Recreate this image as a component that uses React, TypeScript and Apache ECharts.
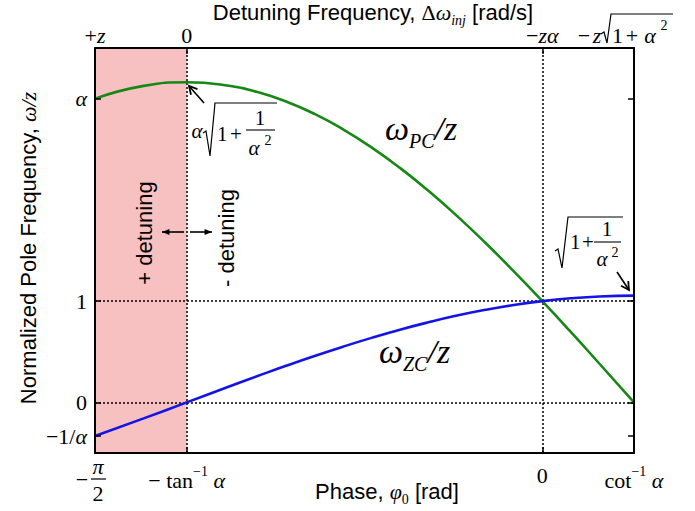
import React, { useEffect, useRef } from 'react';
import * as echarts from 'echarts';

// Phase φ0 [rad] samples
const phase = [-1.571, -1.4, -1.249, -1.1, -1.0, -0.9, -0.8, -0.7, -0.6, -0.5, -0.4, -0.3, -0.2, -0.1, 0, 0.1, 0.2, 0.322];
// ω_PC / z (green)
const pcValues = [3.0, 3.126, 3.162, 3.127, 3.065, 2.972, 2.849, 2.697, 2.519, 2.316, 2.089, 1.842, 1.576, 1.294, 1.0, 0.696, 0.384, 0.0];
// ω_ZC / z (blue)
const zcValues = [-0.333, -0.158, 0.0, 0.157, 0.26, 0.361, 0.458, 0.55, 0.637, 0.718, 0.791, 0.857, 0.914, 0.962, 1.0, 1.028, 1.046, 1.054];

const phaseTicks = [-1.571, -1.249, 0, 0.322];
const phaseTickLabels = ['', '{R|− tan}{sup|−1}{I| α}', '{r|0}', '{R|cot}{sup|−1}{I| α}'];
const detuneTickLabels = ['{r|+}{i|z}', '{r|0}', '{r|−}{i|zα}', ''];
const levelTicks = [-0.333, 0, 1, 3];
const levelTickLabels = ['{r|−1/}{i|α}', '{r|0}', '{r|1}', '{i|α}'];
const guidePhases = [-1.249, 0];
const guideLevels = [0, 1];
const detuneBand = [-1.571, -1.249];
const phaseRange = [-1.571, 0.322];
const levelRange = [-0.5, 3.5];

const SERIF = '"Liberation Serif", "Times New Roman", serif';
const SANS = '"Liberation Sans", Arial, Helvetica, sans-serif';

const richMath: any = {
  r: { fontFamily: SERIF, fontSize: 22, color: '#000' },
  i: { fontFamily: SERIF, fontSize: 22, fontStyle: 'italic', color: '#000' },
  R: { fontFamily: SERIF, fontSize: 22, color: '#000', padding: [5, 0, 0, 0] },
  I: { fontFamily: SERIF, fontSize: 22, fontStyle: 'italic', color: '#000', padding: [5, 0, 0, 0] },
  sup: { fontFamily: SERIF, fontSize: 14, color: '#000', verticalAlign: 'top' },
};

const pick = (ticks: number[], labels: string[]) => (v: number) => {
  let best = 0;
  ticks.forEach((t, i) => {
    if (Math.abs(t - v) < Math.abs(ticks[best] - v)) best = i;
  });
  return labels[best];
};

const frameLine = { show: true, onZero: false, lineStyle: { color: '#000', width: 2 } };
const tickStyle = (vals: number[]) => ({
  show: true,
  inside: true,
  length: 6,
  customValues: vals,
  lineStyle: { color: '#000', width: 1.5 },
});

const Z = 30;
const txt = (text: string, x: number, y: number, font: string, align = 'center', va = 'middle', extra: any = {}) => ({
  type: 'text',
  x,
  y,
  z: Z,
  ...extra,
  style: { text, font, fill: '#000', textAlign: align, textVerticalAlign: va, align, verticalAlign: va, ...(extra.style || {}) },
});
const seg = (x1: number, y1: number, x2: number, y2: number, w = 1.3) => ({
  type: 'line',
  z: Z,
  shape: { x1, y1, x2, y2 },
  style: { stroke: '#000', lineWidth: w },
});
const poly = (points: number[][], w = 1.3) => ({
  type: 'polyline',
  z: Z,
  shape: { points },
  style: { stroke: '#000', lineWidth: w, fill: null },
});
const arrow = (x1: number, y1: number, x2: number, y2: number, size: number, filled: boolean) => {
  const ang = Math.atan2(y2 - y1, x2 - x1);
  const spread = filled ? 0.38 : 0.5;
  const p1 = [x2 + size * Math.cos(ang + Math.PI - spread), y2 + size * Math.sin(ang + Math.PI - spread)];
  const p2 = [x2 + size * Math.cos(ang + Math.PI + spread), y2 + size * Math.sin(ang + Math.PI + spread)];
  const els: any[] = [seg(x1, y1, x2, y2, 1.6)];
  if (filled) els.push({ type: 'polygon', z: Z, shape: { points: [[x2, y2], p1, p2] }, style: { fill: '#000' } });
  else els.push(poly([p1, [x2, y2], p2], 1.8));
  return els;
};

const f21 = `21px ${SERIF}`;
const i21 = `italic 21px ${SERIF}`;
const f22 = `22px ${SERIF}`;
const i22 = `italic 22px ${SERIF}`;
const f14 = `14px ${SERIF}`;

function buildGraphics() {
  const g: any[] = [];
  // titles
  g.push({
    type: 'text', x: 373, y: 14, z: Z,
    style: {
      text: '{s|Detuning Frequency, }{d|Δ}{m|ω}{sub|inj}{s| [rad/s]}',
      textAlign: 'center', textVerticalAlign: 'middle', align: 'center', verticalAlign: 'middle',
      rich: {
        s: { font: `22px ${SANS}`, fill: '#000', padding: [0, 0, 4, 0] },
        d: { font: `22px ${SERIF}`, fill: '#000', padding: [0, 0, 4, 0] },
        m: { font: `italic 22px ${SERIF}`, fill: '#000', padding: [0, 0, 4, 0] },
        sub: { font: `italic 14px ${SERIF}`, fill: '#000', verticalAlign: 'bottom' },
      },
    },
  });
  g.push({
    type: 'text', x: 387, y: 493, z: Z,
    style: {
      text: '{s|Phase, }{m|φ}{sub|0}{s| [rad]}',
      textAlign: 'center', textVerticalAlign: 'middle', align: 'center', verticalAlign: 'middle',
      rich: {
        s: { font: `22px ${SANS}`, fill: '#000', padding: [0, 0, 4, 0] },
        m: { font: `italic 22px ${SERIF}`, fill: '#000', padding: [0, 0, 4, 0] },
        sub: { font: `14px ${SERIF}`, fill: '#000', verticalAlign: 'bottom' },
      },
    },
  });
  g.push({
    type: 'text', x: 28, y: 248, rotation: Math.PI / 2, z: Z,
    style: {
      text: '{s|Normalized Pole Frequency, }{m|ω/z}',
      textAlign: 'center', textVerticalAlign: 'middle', align: 'center', verticalAlign: 'middle',
      rich: {
        s: { font: `22px ${SANS}`, fill: '#000' },
        m: { font: `italic 22px ${SERIF}`, fill: '#000' },
      },
    },
  });

  // -π/2 tick label
  g.push(txt('−', 82, 479, f22));
  g.push(txt('π', 98, 466, i22));
  g.push(seg(91, 479, 106, 479, 1.2));
  g.push(txt('2', 98, 493, f22));

  // top-right tick label: −z√(1+α²)
  g.push(txt('−', 584, 46, f22, 'center', 'bottom'));
  g.push(txt('z', 597, 46, i22, 'center', 'bottom'));
  g.push(poly([[601, 34], [604, 32], [607, 43], [611, 14], [673, 14]], 1.2));
  g.push(txt('1', 612, 46, f22, 'left', 'bottom'));
  g.push(txt('+', 632, 46, f22, 'center', 'bottom'));
  g.push(txt('α', 650, 46, i22, 'center', 'bottom'));
  g.push(txt('2', 664, 25, f14));

  // annotation α√(1+1/α²) at peak of ω_PC
  g.push(txt('α', 197, 131, i21));
  g.push(poly([[203, 133], [206, 131], [210, 156], [215, 103], [277, 103]], 1.2));
  g.push(txt('1', 217, 134, f21, 'left'));
  g.push(txt('+', 236, 134, f21));
  g.push(txt('1', 260, 118, f21));
  g.push(seg(246, 130, 275, 130, 1.1));
  g.push(txt('α', 254, 148, i21));
  g.push(txt('2', 268, 140, f14));
  g.push(...arrow(204, 103, 189, 86, 9, false));

  // annotation √(1+1/α²) at end of ω_ZC
  g.push(poly([[555, 251], [558, 249], [562, 268], [568, 217], [623, 217]], 1.2));
  g.push(txt('1', 570, 242, f21, 'left'));
  g.push(txt('+', 588, 242, f21));
  g.push(txt('1', 607, 229, f21));
  g.push(seg(594, 242, 621, 242, 1.1));
  g.push(txt('α', 602, 259, i21));
  g.push(txt('2', 615, 252, f14));
  g.push(...arrow(617, 272, 629, 290, 9, false));

  // curve labels
  const bigRich = {
    w: { font: `italic 34px ${SERIF}`, fill: '#000', padding: [0, 0, 5, 0] },
    s: { font: `italic 20px ${SERIF}`, fill: '#000', verticalAlign: 'bottom' },
  };
  g.push({
    type: 'text', x: 385, y: 131, z: Z,
    style: { text: '{w|ω}{s|PC}{w|/z}', textAlign: 'left', textVerticalAlign: 'middle', align: 'left', verticalAlign: 'middle', rich: bigRich },
  });
  g.push({
    type: 'text', x: 379, y: 354, z: Z,
    style: { text: '{w|ω}{s|ZC}{w|/z}', textAlign: 'left', textVerticalAlign: 'middle', align: 'left', verticalAlign: 'middle', rich: bigRich },
  });

  // detuning labels and arrows
  g.push(txt('+ detuning', 144, 233, `22px ${SANS}`, 'center', 'middle', { rotation: Math.PI / 2 }));
  g.push(txt('- detuning', 226, 238, `22px ${SANS}`, 'center', 'middle', { rotation: Math.PI / 2 }));
  g.push(...arrow(184, 232, 162, 232, 8, true));
  g.push(...arrow(190, 232, 212, 232, 8, true));
  return g;
}

export default function App() {
  const ref = useRef<HTMLDivElement>(null);
  useEffect(() => {
    document.body.style.margin = '0';
    if (!ref.current) return;
    const chart = echarts.init(ref.current, undefined, { renderer: 'svg' });
    const option: any = {
      animation: false,
      backgroundColor: '#fff',
      grid: { left: 95, right: 61, top: 48, bottom: 58, containLabel: false },
      xAxis: [
        {
          type: 'value', position: 'bottom', min: phaseRange[0], max: phaseRange[1], z: 10,
          axisLine: frameLine, axisTick: tickStyle(phaseTicks), splitLine: { show: false },
          axisLabel: { customValues: phaseTicks, formatter: pick(phaseTicks, phaseTickLabels), margin: 11, rich: richMath },
        },
        {
          type: 'value', position: 'top', min: phaseRange[0], max: phaseRange[1], z: 10,
          axisLine: frameLine, axisTick: tickStyle(phaseTicks), splitLine: { show: false },
          axisLabel: { customValues: phaseTicks, formatter: pick(phaseTicks, detuneTickLabels), margin: 2, rich: richMath },
        },
      ],
      yAxis: [
        {
          type: 'value', position: 'left', min: levelRange[0], max: levelRange[1], z: 10,
          axisLine: frameLine, axisTick: tickStyle(levelTicks), splitLine: { show: false },
          axisLabel: { customValues: levelTicks, formatter: pick(levelTicks, levelTickLabels), margin: 8, rich: richMath },
        },
        {
          type: 'value', position: 'right', min: levelRange[0], max: levelRange[1], z: 10,
          axisLine: frameLine, axisTick: tickStyle(levelTicks), splitLine: { show: false },
          axisLabel: { show: false },
        },
      ],
      series: [
        {
          type: 'line', name: 'ωPC/z', data: phase.map((p, i) => [p, pcValues[i]]),
          smooth: true, symbol: 'none', z: 4,
          lineStyle: { color: '#158815', width: 2.6 },
          markArea: {
            silent: true, z: 1,
            itemStyle: { color: '#f8c1c1' },
            data: [[{ xAxis: detuneBand[0] }, { xAxis: detuneBand[1] }]],
          },
          markLine: {
            silent: true, symbol: 'none', label: { show: false }, z: 3,
            lineStyle: { type: [2, 2], color: '#000', width: 1.5 },
            data: [
              ...guidePhases.map((v) => ({ xAxis: v })),
              ...guideLevels.map((v) => ({ yAxis: v })),
            ],
          },
        },
        {
          type: 'line', name: 'ωZC/z', data: phase.map((p, i) => [p, zcValues[i]]),
          smooth: true, symbol: 'none', z: 4,
          lineStyle: { color: '#1414e6', width: 2.6 },
        },
      ],
      graphic: buildGraphics(),
    };
    chart.setOption(option);
    return () => chart.dispose();
  }, []);
  return <div ref={ref} style={{ width: 695, height: 511 }} />;
}
